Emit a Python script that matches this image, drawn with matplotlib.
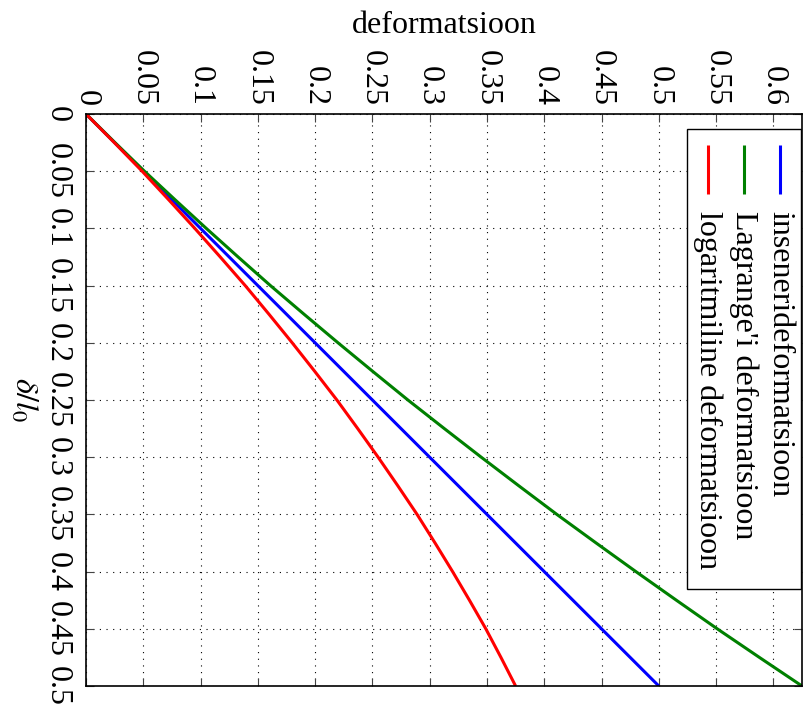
import numpy as np
import matplotlib
matplotlib.use('Agg')
import matplotlib.pyplot as plt
from matplotlib.patches import Rectangle

# values (engineering strain on the vertical axis)
delta = [0, 0.025, 0.05, 0.075, 0.10, 0.125, 0.15, 0.175, 0.20, 0.225, 0.25,
         0.275, 0.30, 0.325, 0.35, 0.375, 0.40, 0.425, 0.45, 0.475, 0.50]
insener = [0, 0.025, 0.05, 0.075, 0.10, 0.125, 0.15, 0.175, 0.20, 0.225, 0.25,
           0.275, 0.30, 0.325, 0.35, 0.375, 0.40, 0.425, 0.45, 0.475, 0.50]
lagrange = [0, 0.0253, 0.051, 0.0778, 0.105, 0.1328, 0.161, 0.1903, 0.22, 0.2503, 0.281,
            0.3128, 0.345, 0.3778, 0.411, 0.4453, 0.48, 0.5153, 0.551, 0.5878, 0.625]
logarit = [0, 0.0247, 0.049, 0.0722, 0.095, 0.1172, 0.139, 0.1597, 0.18, 0.1997, 0.219,
           0.2372, 0.255, 0.2722, 0.289, 0.3047, 0.32, 0.3347, 0.349, 0.3622, 0.375]

names = ['inseneridefor' + 'matsioon', "Lagrange'i deformatsioon", 'logaritmiline deformatsioon']
colors = ['#0000ff', '#008000', '#ff0000']
series = [insener, lagrange, logarit]

def_ticks = [0, 0.05, 0.1, 0.15, 0.2, 0.25, 0.3, 0.35, 0.4, 0.45, 0.5, 0.55, 0.6]
delta_ticks = [0, 0.05, 0.1, 0.15, 0.2, 0.25, 0.3, 0.35, 0.4, 0.45, 0.5]

plt.rcParams['font.family'] = ['Liberation Serif', 'DejaVu Serif']
plt.rcParams['mathtext.fontset'] = 'stix'
plt.rcParams['font.size'] = 23

fig = plt.figure(figsize=(8.1, 7.17), dpi=100)
ax = fig.add_axes([86/810, 1-686/717, 716/810, 572/717])

for vals, c in zip(series, colors):
    ax.plot(vals, delta, color=c, lw=2.2, solid_capstyle='butt')

ax.set_xlim(0, 0.625)
ax.set_ylim(0.5, 0)

ax.set_xticks(def_ticks)
ax.set_xticklabels(['%g' % t for t in def_ticks])
ax.set_yticks(delta_ticks)
ax.set_yticklabels(['%g' % t for t in delta_ticks])

ax.tick_params(axis='x', top=True, bottom=True, labeltop=True, labelbottom=False,
               direction='in', length=6, color='#444444', labelrotation=270, pad=6)
ax.tick_params(axis='y', left=True, right=True, direction='in', length=6,
               color='#444444', labelrotation=270, pad=10)
for lab in ax.get_yticklabels():
    lab.set_va('center')

ax.grid(True, color='black', linestyle=(0, (1, 5)), lw=0.8)
for s in ax.spines.values():
    s.set_linewidth(1.2)

ax.xaxis.set_label_position('top')
ax.set_xlabel('deformatsioon', labelpad=12)
ax.set_ylabel(r'$\delta/l_0$', rotation=270, ha='center', va='center')
ax.yaxis.set_label_coords(-0.088, 0.5)

# legend drawn by hand so that it can be turned like the rest of the chart
ax.add_patch(Rectangle((0.839, 0.1696), 0.1596, 0.8044, transform=ax.transAxes,
                       facecolor='white', edgecolor='black', lw=1.0, zorder=5))
xs = [0.9693, 0.9190, 0.8687]
for x, c, n in zip(xs, colors, names):
    ax.plot([x, x], [0.9458, 0.8601], color=c, lw=2.2, transform=ax.transAxes,
            zorder=6, solid_capstyle='butt')
    ax.text(x, 0.83, n, rotation=270, ha='center', va='top',
            transform=ax.transAxes, zorder=6)

fig.savefig('out.png', dpi=100)
